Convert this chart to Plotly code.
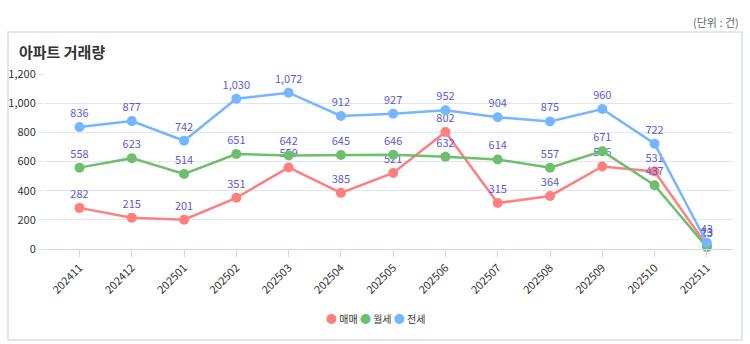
import plotly.graph_objects as go

months = ["202411","202412","202501","202502","202503","202504","202505",
          "202506","202507","202508","202509","202510","202511"]
sale = [282, 215, 201, 351, 559, 385, 521, 802, 315, 364, 566, 531, 23]
monthly = [558, 623, 514, 651, 642, 645, 646, 632, 614, 557, 671, 437, 13]
jeonse = [836, 877, 742, 1030, 1072, 912, 927, 952, 904, 875, 960, 722, 43]
y_ticks = [0, 200, 400, 600, 800, 1000, 1200]

series = [("매매", sale, "#ff7f7f"), ("월세", monthly, "#6dbf6d"), ("전세", jeonse, "#74b6ff")]
FONT = "Noto Sans CJK KR"

fig = go.Figure()
xs = list(range(len(months)))
for name, vals, col in series:
    fig.add_trace(go.Scatter(
        x=xs, y=vals, name=name, mode="lines+markers+text", showlegend=False,
        line=dict(color=col, width=2.5),
        marker=dict(color=col, size=10, symbol="circle"),
        text=[f"{v:,}" for v in vals], textposition="top center",
        textfont=dict(color="#5b5bd9", size=11, family=FONT),
        cliponaxis=False,
    ))

legend_text = " ".join(
    f"<span style='color:{col};font-size:11px'>●</span> {name}" for name, _, col in series
)

fig.update_layout(
    width=750, height=344,
    margin=dict(l=45, r=17, t=74, b=95),
    paper_bgcolor="white", plot_bgcolor="white",
    font=dict(family=FONT, color="#333333", size=11),
    showlegend=False,
    xaxis=dict(
        tickmode="array", tickvals=xs, ticktext=months, tickangle=-45,
        range=[-0.66, 12.5], showgrid=False, zeroline=False, automargin=False,
        showline=True, linecolor="#ccd6eb", linewidth=1,
        ticks="outside", ticklen=7, tickcolor="#ccd6eb",
        tickfont=dict(size=11, color="#333333"),
    ),
    yaxis=dict(
        tickmode="array", tickvals=y_ticks, ticktext=[f"{v:,}" for v in y_ticks],
        range=[0, 1200], showgrid=True, gridcolor="#dfe6ef", gridwidth=1, automargin=False,
        zeroline=False, showline=False, ticks="outside", ticklen=6, tickcolor="#dfe6ef",
        tickfont=dict(size=11, color="#333333"),
    ),
    shapes=[dict(type="rect", xref="paper", yref="paper",
                 x0=-0.0538, x1=1.013, y0=-0.52, y1=1.24,
                 line=dict(color="#d6dfeb", width=1.5), fillcolor="rgba(0,0,0,0)", layer="below")],
    annotations=[
        dict(text="<b>아파트 거래량</b>", xref="paper", yref="paper", x=-0.0407, y=1.126,
             xanchor="left", yanchor="middle", showarrow=False,
             font=dict(size=15, color="#333333", family=FONT)),
        dict(text="(단위 : 건)", xref="paper", yref="paper", x=1.0116, y=1.297,
             xanchor="right", yanchor="middle", showarrow=False,
             font=dict(size=11, color="#666666", family=FONT)),
        dict(text=legend_text, xref="paper", yref="paper", x=0.48, y=-0.394,
             xanchor="center", yanchor="middle", showarrow=False,
             font=dict(size=10, color="#333333", family=FONT)),
    ],
)

fig.write_html("out.html")
